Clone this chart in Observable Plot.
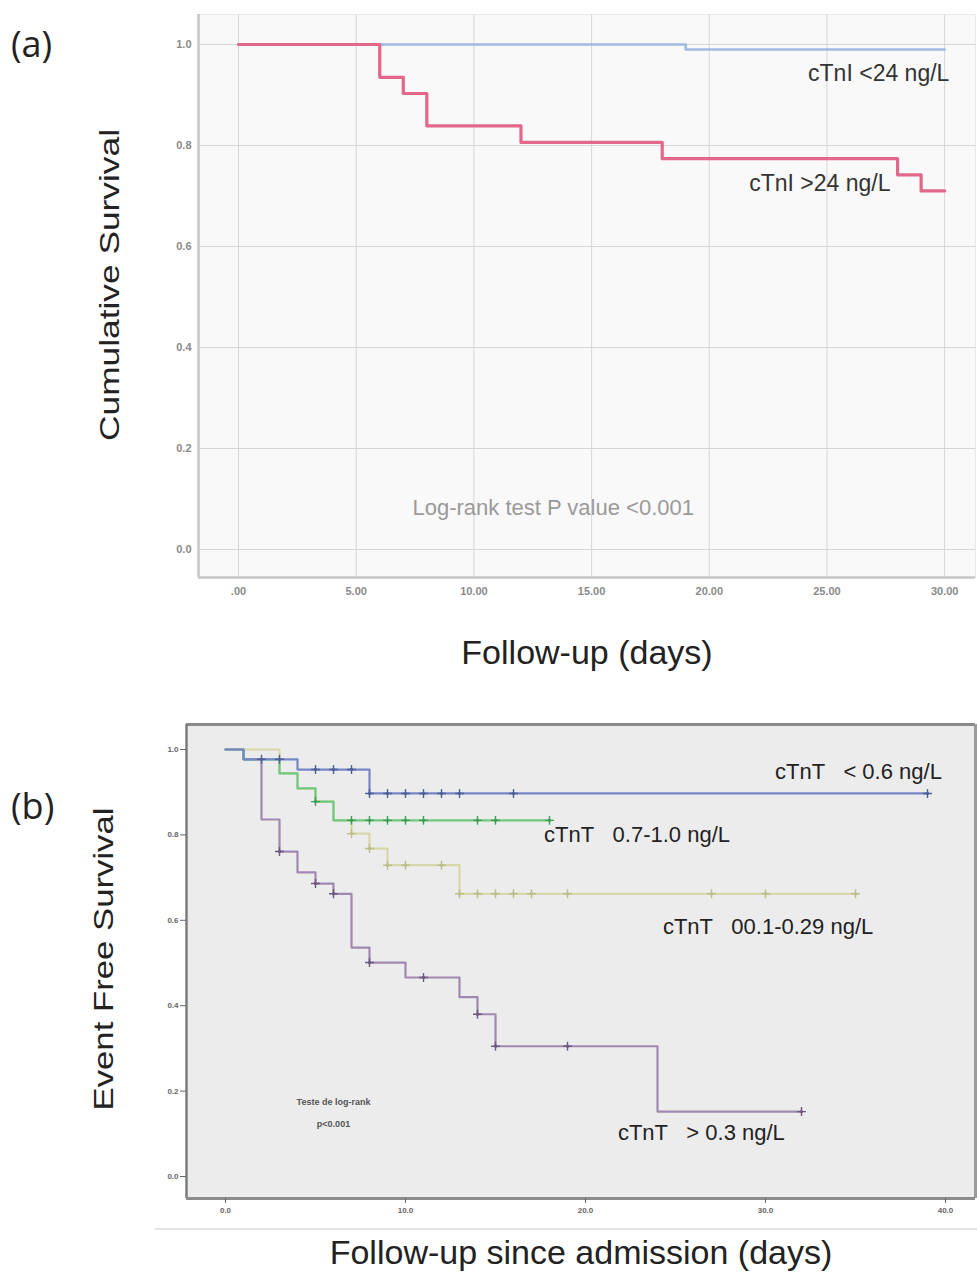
<!DOCTYPE html>
<html>
<head>
<meta charset="utf-8">
<script src="https://cdn.jsdelivr.net/npm/d3@7"></script>
<script src="https://cdn.jsdelivr.net/npm/@observablehq/plot@0.6"></script>
<style>
  html, body { margin: 0; padding: 0; background: #fff; }
  body { width: 977px; height: 1284px; overflow: hidden; position: relative; font-family: "Liberation Sans", Arial, sans-serif; }
  #panelA { position: absolute; left: 0; top: 0; }
  #panelB { position: absolute; left: 0; top: 690px; }
  .tag { position: absolute; font-family: "Open Sans", "Liberation Sans", sans-serif; font-size: 36px; color: #222; line-height: 1; }
  #sep { position: absolute; left: 155px; right: 0; top: 1228px; height: 2px; background: #e4e4e4; }
</style>
</head>
<body>
<div class="tag" style="left:11px;top:26px;">(a)</div>
<div class="tag" style="left:11px;top:788px;">(b)</div>
<div id="panelA"></div>
<div id="sep"></div>
<div id="panelB"></div>
<script>
// ---------------- Panel (a) data ----------------
const aDayTicks = [0, 5, 10, 15, 20, 25, 30];
const aSurvTicks = [0, 0.2, 0.4, 0.6, 0.8, 1.0];
const lowITime = [0, 19, 30];                 // cTnI <24 ng/L
const lowISurv = [1.0, 0.99, 0.99];
const highITime = [0, 6, 7, 8, 12, 18, 28, 29, 30];   // cTnI >24 ng/L
const highISurv = [1.0, 0.935, 0.903, 0.839, 0.806, 0.774, 0.742, 0.710, 0.710];
const aSeriesNames = ["cTnI <24 ng/L", "cTnI >24 ng/L"];
const aTestText = "Log-rank test P value <0.001";

// ---------------- Panel (b) data ----------------
const bDayTicks = [0, 10, 20, 30, 40];
const bSurvTicks = [0, 0.2, 0.4, 0.6, 0.8, 1.0];
const blueTime = [0, 1, 4, 8, 39];            // cTnT < 0.6
const blueSurv = [1.0, 0.977, 0.953, 0.897, 0.897];
const blueCens = [2, 3, 5, 6, 7, 8, 9, 10, 11, 12, 13, 16, 39];
const greenTime = [0, 1, 3, 4, 5, 6, 18];     // cTnT 0.7-1.0
const greenSurv = [1.0, 0.977, 0.944, 0.909, 0.878, 0.834, 0.834];
const greenCens = [5, 7, 8, 9, 10, 11, 14, 15, 18];
const tanTime = [0, 3, 4, 5, 6, 7, 8, 9, 13, 35];   // cTnT 00.1-0.29
const tanSurv = [1.0, 0.944, 0.909, 0.878, 0.834, 0.803, 0.768, 0.729, 0.662, 0.662];
const tanCens = [7, 8, 9, 10, 12, 13, 14, 15, 16, 17, 19, 27, 30, 35];
const purpleTime = [0, 1, 2, 3, 4, 5, 6, 7, 8, 10, 13, 14, 15, 24, 32];  // cTnT > 0.3
const purpleSurv = [1.0, 0.977, 0.836, 0.761, 0.712, 0.686, 0.662, 0.536, 0.501, 0.466, 0.42, 0.38, 0.305, 0.152, 0.152];
const purpleCens = [3, 5, 6, 8, 11, 14, 15, 19, 32];
const bSeriesNames = ["cTnT\u00a0\u00a0\u00a0< 0.6 ng/L", "cTnT\u00a0\u00a0\u00a00.7-1.0 ng/L", "cTnT\u00a0\u00a0\u00a000.1-0.29 ng/L", "cTnT\u00a0\u00a0\u00a0> 0.3 ng/L"];
const bTestText = "Teste de log-rank\np<0.001";

// ---------------- helpers ----------------
const toRows = (t, s) => t.map((d, i) => ({t: d, s: s[i]}));
const survAt = (t, s, x) => s[Math.max(0, d3.bisectRight(t, x) - 1)];
const censRows = (t, s, c) => c.map(x => ({t: x, s: survAt(t, s, x)}));
const FONT = "Liberation Sans, Arial, sans-serif";

function stretch(svg, str, len) {
  svg.querySelectorAll("text").forEach(el => {
    if (el.textContent === str) {
      el.setAttribute("textLength", len);
      el.setAttribute("lengthAdjust", "spacingAndGlyphs");
    }
  });
}

// ---------------- Panel (a) ----------------
const AX = [-1.70, 31.31];
const AY = [-0.0554, 1.0594];
const plotA = Plot.plot({
  width: 977, height: 690,
  marginLeft: 198, marginRight: 2, marginTop: 14, marginBottom: 113,
  style: {background: "transparent", fontFamily: FONT, overflow: "visible"},
  x: {domain: AX},
  y: {domain: AY},
  marks: [
    Plot.frame({fill: "#f9f9f9", stroke: "#e8e8e8"}),
    Plot.gridX(aDayTicks, {stroke: "#d6d6d6", strokeOpacity: 1}),
    Plot.gridY(aSurvTicks, {stroke: "#d6d6d6", strokeOpacity: 1}),
    Plot.ruleX([AX[0]], {stroke: "#c6c6c6", strokeWidth: 2.5}),
    Plot.ruleY([AY[0]], {stroke: "#c6c6c6", strokeWidth: 2.5}),
    Plot.axisX(aDayTicks, {tickSize: 0, tickPadding: 10, fontSize: 11, fontWeight: "bold", color: "#8a8a8a", label: null,
      tickFormat: d => d === 0 ? ".00" : d.toFixed(2)}),
    Plot.axisY(aSurvTicks, {tickSize: 0, tickPadding: 7, fontSize: 11, fontWeight: "bold", color: "#8a8a8a", label: null,
      tickFormat: d3.format(".1f")}),
    Plot.line(toRows(lowITime, lowISurv), {x: "t", y: "s", curve: "step-after", stroke: "#9dbbe2", strokeWidth: 2.6}),
    Plot.line(toRows(highITime, highISurv), {x: "t", y: "s", curve: "step-after", stroke: "#e2678a", strokeWidth: 3.2}),
    Plot.text([aSeriesNames[0]], {x: 30.2, y: 0.943, textAnchor: "end", fontSize: 23, fill: "#333"}),
    Plot.text([aSeriesNames[1]], {x: 27.7, y: 0.725, textAnchor: "end", fontSize: 23, fill: "#333"}),
    Plot.text([aTestText], {x: 13.37, y: 0.083, fontSize: 22, fill: "#9a9a9a"}),
    Plot.text(["Cumulative Survival"], {frameAnchor: "left", rotate: -90, textAnchor: "start", dx: -88, dy: 145, fontSize: 28, fill: "#222"}),
    Plot.text(["Follow-up (days)"], {frameAnchor: "bottom", dy: 86, fontSize: 34, fill: "#222"})
  ]
});
stretch(plotA, "Cumulative Survival", 312);
document.getElementById("panelA").appendChild(plotA);

// ---------------- Panel (b) ----------------
const BX = [-2.167, 41.667];
const BY = [-0.0515, 1.0585];
const bSeries = [
  {time: tanTime, surv: tanSurv, cens: tanCens, line: "#d7d7aa", mark: "#bdbd8c"},
  {time: purpleTime, surv: purpleSurv, cens: purpleCens, line: "#a088b0", mark: "#6e5a80"},
  {time: greenTime, surv: greenSurv, cens: greenCens, line: "#6fc87f", mark: "#3f9c55"},
  {time: blueTime, surv: blueSurv, cens: blueCens, line: "#7686c6", mark: "#52609a"}
];
const bMarks = [
  Plot.frame({fill: "#ececec", stroke: null}),
  Plot.ruleY([BY[1]], {stroke: "#8a8a8a", strokeWidth: 3}),
  Plot.ruleX([BX[1]], {stroke: "#9a9a9a", strokeWidth: 3}),
  Plot.ruleX([BX[0]], {stroke: "#7c7c7c", strokeWidth: 2.5}),
  Plot.ruleY([BY[0]], {stroke: "#8c8c8c", strokeWidth: 3}),
  Plot.axisX(bDayTicks, {tickSize: 5, tickPadding: 4, fontSize: 8, fontWeight: "bold", color: "#666", label: null,
    tickFormat: d3.format(".1f")}),
  Plot.axisY(bSurvTicks, {tickSize: 6, tickPadding: 2, fontSize: 8, fontWeight: "bold", color: "#666", label: null,
    tickFormat: d3.format(".1f")})
];
for (const s of bSeries) {
  bMarks.push(Plot.line(toRows(s.time, s.surv), {x: "t", y: "s", curve: "step-after", stroke: s.line, strokeWidth: 2.2}));
}
for (const s of bSeries) {
  bMarks.push(Plot.dot(censRows(s.time, s.surv, s.cens), {x: "t", y: "s", symbol: "plus", r: 3, stroke: s.mark, strokeWidth: 1.4}));
  bMarks.push(Plot.dot(censRows(s.time, s.surv, s.cens), {x: "t", y: "s", r: 1.7, fill: s.mark}));
}
bMarks.push(
  Plot.text([bSeriesNames[0]], {x: 39.8, y: 0.948, textAnchor: "end", fontSize: 22, fill: "#222"}),
  Plot.text([bSeriesNames[1]], {x: 17.7, y: 0.799, textAnchor: "start", fontSize: 22, fill: "#222"}),
  Plot.text([bSeriesNames[2]], {x: 24.3, y: 0.585, textAnchor: "start", fontSize: 22, fill: "#222"}),
  Plot.text([bSeriesNames[3]], {x: 21.8, y: 0.103, textAnchor: "start", fontSize: 22, fill: "#222"}),
  Plot.text([bTestText], {x: 6.0, y: 0.158, fontSize: 9, fontWeight: "bold", fill: "#555", lineHeight: 2.4}),
  Plot.text(["Event Free Survival"], {frameAnchor: "left", rotate: -90, textAnchor: "start", dx: -82, dy: 149, fontSize: 28, fill: "#222"}),
  Plot.text(["Follow-up since admission (days)"], {frameAnchor: "bottom", dy: 65, fontSize: 34, fill: "#222"})
);
const plotB = Plot.plot({
  width: 977, height: 594,
  marginLeft: 186, marginRight: 2, marginTop: 34, marginBottom: 86,
  style: {background: "transparent", fontFamily: FONT, overflow: "visible"},
  x: {domain: BX},
  y: {domain: BY},
  marks: bMarks
});
stretch(plotB, "Event Free Survival", 303);
document.getElementById("panelB").appendChild(plotB);
</script>
</body>
</html>
